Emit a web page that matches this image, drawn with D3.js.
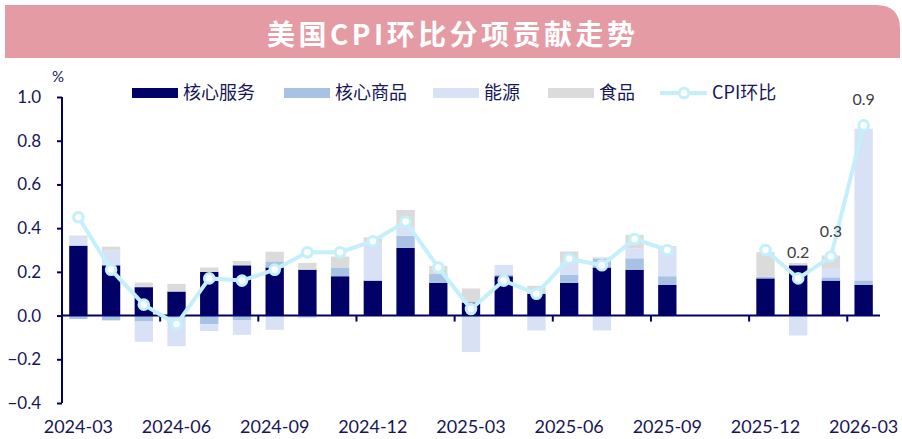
<!DOCTYPE html>
<html>
<head>
<meta charset="utf-8">
<script src="https://cdn.jsdelivr.net/npm/d3@7"></script>
<style>
  body { margin: 0; background: #fff; }
  text { font-family: Lato, 'Noto Sans CJK SC', sans-serif; }
</style>
</head>
<body>
<div id="chart"></div>
<script>
const months = ['2024-03', '2024-04', '2024-05', '2024-06', '2024-07', '2024-08', '2024-09', '2024-10',
  '2024-11', '2024-12', '2025-01', '2025-02', '2025-03', '2025-04', '2025-05', '2025-06', '2025-07',
  '2025-08', '2025-09', '2025-10', '2025-11', '2025-12', '2026-01', '2026-02', '2026-03'];

const coreServices = [0.32, 0.23, 0.13, 0.11, 0.20, 0.23, 0.22, 0.21, 0.18, 0.16, 0.31, 0.15, 0.06,
  0.18, 0.10, 0.15, 0.22, 0.21, 0.14, null, null, 0.17, 0.23, 0.16, 0.14];
const coreGoods = [-0.016, -0.022, -0.027, -0.01, -0.04, -0.022, 0.028, 0, 0.04, 0, 0.055, 0.04, 0,
  0.008, 0, 0.036, 0.041, 0.052, 0.04, null, null, 0.007, 0, 0.015, 0.021];
const energy = [0.04, 0.068, -0.093, -0.13, -0.031, -0.066, -0.065, -0.012, 0, 0.171, 0.038, 0, -0.167,
  0.044, -0.068, 0.06, -0.068, 0.046, 0.13, null, null, 0, -0.091, 0.043, 0.694];
const food = [0.006, 0.017, 0.021, 0.035, 0.02, 0.02, 0.044, 0.031, 0.05, 0.027, 0.08, 0.037, 0.064,
  0, 0.036, 0.047, 0.005, 0.061, 0.008, null, null, 0.113, 0.011, 0.057, 0];
const cpi = [0.45, 0.21, 0.05, -0.04, 0.17, 0.16, 0.21, 0.29, 0.29, 0.34, 0.43, 0.22, 0.03, 0.16,
  0.10, 0.26, 0.23, 0.35, 0.30, null, null, 0.30, 0.17, 0.27, 0.87];

const labelledMonths = ['2026-01', '2026-02', '2026-03'];
const xTickLabels = ['2024-03', '2024-06', '2024-09', '2024-12', '2025-03', '2025-06', '2025-09', '2025-12', '2026-03'];
const yTicks = [-0.4, -0.2, 0, 0.2, 0.4, 0.6, 0.8, 1.0];

const keys = ['核心服务', '核心商品', '能源', '食品'];
const colors = ['#000066', '#a7c2e3', '#d9e1f6', '#dbdbdb'];
const lineColor = '#c4effb';
const navy = '#000066';
const textColor = '#16165a';

const width = 902;
const height = 439;

const rows = months.map((m, i) => ({
  month: m,
  核心服务: coreServices[i],
  核心商品: coreGoods[i],
  能源: energy[i],
  食品: food[i],
  cpi: cpi[i],
}));

const svg = d3.select('#chart').append('svg')
  .attr('width', width)
  .attr('height', height);

// title banner
svg.append('path')
  .attr('d', 'M5,5 H876 Q900,5 900,29 V58 H5 Z')
  .attr('fill', '#e49ba4');

svg.append('text')
  .attr('x', 451)
  .attr('y', 45)
  .attr('text-anchor', 'middle')
  .attr('fill', '#fff')
  .attr('textLength', 368)
  .attr('lengthAdjust', 'spacing')
  .style('font-family', "'Noto Sans CJK SC', sans-serif")
  .style('font-weight', 700)
  .style('font-size', '28px')
  .text('美国CPI环比分项贡献走势');

const x = d3.scaleBand()
  .domain(months)
  .range([62, 880])
  .paddingInner(0.44)
  .paddingOuter(0.22);

const y = d3.scaleLinear()
  .domain([-0.4, 1.0])
  .range([403, 97]);

const stacked = d3.stack()
  .keys(keys)
  .value((d, k) => d[k] || 0)
  .offset(d3.stackOffsetDiverging)(rows.filter((d) => d.核心服务 !== null));

svg.append('g')
  .selectAll('g')
  .data(stacked)
  .join('g')
  .attr('fill', (d, i) => colors[i])
  .selectAll('rect')
  .data((d) => d)
  .join('rect')
  .attr('x', (d) => x(d.data.month))
  .attr('width', x.bandwidth())
  .attr('y', (d) => y(Math.max(d[0], d[1])))
  .attr('height', (d) => Math.abs(y(d[0]) - y(d[1])));

// y axis
const yAxis = svg.append('g')
  .attr('transform', 'translate(62,0)')
  .call(d3.axisLeft(y).tickValues(yTicks).tickSize(5).tickPadding(16).tickFormat(d3.format('.1f')));
yAxis.select('.domain').attr('stroke', navy).attr('stroke-width', 2).attr('d', `M0,${y(1.0)}V${y(-0.4)}`);
yAxis.selectAll('.tick line').attr('stroke', navy).attr('stroke-width', 2);
yAxis.selectAll('.tick text')
  .attr('fill', textColor)
  .style('font-size', '17px');

svg.append('text')
  .attr('x', 58)
  .attr('y', 82)
  .attr('text-anchor', 'middle')
  .attr('fill', textColor)
  .style('font-size', '15px')
  .text('%');

// x axis on zero line
const step = x.step();
const boundaries = d3.range(3, 25, 3).map((k) => 62 + k * step);
svg.append('line')
  .attr('x1', 62).attr('x2', 880)
  .attr('y1', y(0)).attr('y2', y(0))
  .attr('stroke', navy)
  .attr('stroke-width', 2);
svg.append('g')
  .selectAll('line')
  .data(boundaries)
  .join('line')
  .attr('x1', (d) => d).attr('x2', (d) => d)
  .attr('y1', y(0)).attr('y2', y(0) + 6)
  .attr('stroke', navy)
  .attr('stroke-width', 2);

svg.append('g')
  .selectAll('text')
  .data(xTickLabels)
  .join('text')
  .attr('x', (d) => x(d) + x.bandwidth() / 2)
  .attr('y', 433)
  .attr('text-anchor', 'middle')
  .attr('fill', textColor)
  .style('font-size', '18px')
  .text((d) => d);

// CPI line
const cx = (d) => x(d.month) + x.bandwidth() / 2;
const line = d3.line()
  .defined((d) => d.cpi !== null)
  .x(cx)
  .y((d) => y(d.cpi));

svg.append('path')
  .datum(rows)
  .attr('fill', 'none')
  .attr('stroke', lineColor)
  .attr('stroke-width', 4)
  .attr('d', line);

svg.append('g')
  .selectAll('circle')
  .data(rows.filter((d) => d.cpi !== null))
  .join('circle')
  .attr('cx', cx)
  .attr('cy', (d) => y(d.cpi))
  .attr('r', 4.8)
  .attr('fill', '#fff')
  .attr('stroke', lineColor)
  .attr('stroke-width', 3);

svg.append('g')
  .selectAll('text')
  .data(rows.filter((d) => labelledMonths.includes(d.month)))
  .join('text')
  .attr('x', cx)
  .attr('y', (d) => y(d.cpi) - 20)
  .attr('text-anchor', 'middle')
  .attr('fill', '#404040')
  .style('font-size', '16px')
  .text((d) => d3.format('.1f')(d.cpi));

// legend
const legendItems = [
  { name: '核心服务', x: 132 },
  { name: '核心商品', x: 284 },
  { name: '能源', x: 433 },
  { name: '食品', x: 548 },
];
const legend = svg.append('g');
legendItems.forEach((item, i) => {
  legend.append('rect')
    .attr('x', item.x)
    .attr('y', 88)
    .attr('width', 46)
    .attr('height', 10)
    .attr('fill', colors[i]);
  legend.append('text')
    .attr('x', item.x + 51)
    .attr('y', 99)
    .attr('fill', textColor)
    .style('font-family', "'Noto Sans CJK SC', sans-serif")
    .style('font-size', '18px')
    .text(item.name);
});
legend.append('line')
  .attr('x1', 660).attr('x2', 707)
  .attr('y1', 93).attr('y2', 93)
  .attr('stroke', lineColor)
  .attr('stroke-width', 4);
legend.append('circle')
  .attr('cx', 684).attr('cy', 93)
  .attr('r', 4.8)
  .attr('fill', '#fff')
  .attr('stroke', lineColor)
  .attr('stroke-width', 3);
legend.append('text')
  .attr('x', 712)
  .attr('y', 99)
  .attr('fill', textColor)
  .style('font-family', "'Noto Sans CJK SC', sans-serif")
  .style('font-size', '18px')
  .text('CPI环比');
</script>
</body>
</html>
